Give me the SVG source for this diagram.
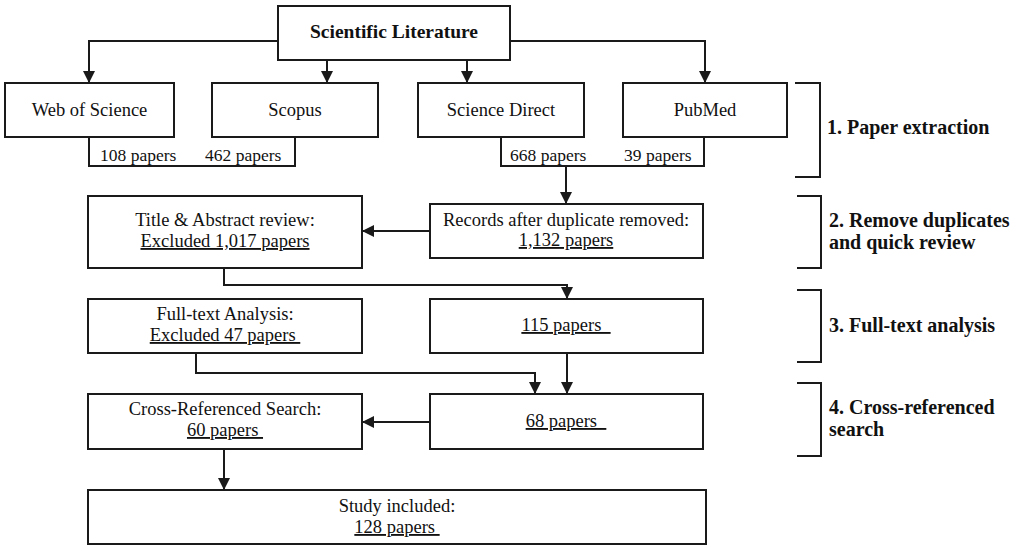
<svg xmlns="http://www.w3.org/2000/svg" width="1032" height="547" viewBox="0 0 1032 547">
<style>
.box{fill:#fff;stroke:#1a1a1a;stroke-width:2}
.t{font-family:"Liberation Serif","Times New Roman",serif;font-size:18.5px;fill:#111;text-anchor:middle}
.s{font-family:"Liberation Serif","Times New Roman",serif;font-size:17.5px;fill:#111}
.b{font-family:"Liberation Serif","Times New Roman",serif;font-size:20px;font-weight:bold;fill:#111}
.u{text-decoration:underline}
.c{fill:none;stroke:#1a1a1a;stroke-width:2}
</style>
<defs>
<marker id="ah" markerUnits="userSpaceOnUse" markerWidth="12" markerHeight="12" refX="12" refY="6" orient="auto">
<path d="M0,0 L12,6 L0,12 z" fill="#1a1a1a"/>
</marker>
</defs>
<rect width="1032" height="547" fill="#fff"/>
<g id="connectors">
<path class="c" d="M278,41 H89 V83" marker-end="url(#ah)"/>
<path class="c" d="M327,60 V83" marker-end="url(#ah)"/>
<path class="c" d="M467,60 V83" marker-end="url(#ah)"/>
<path class="c" d="M510,41 H705 V83" marker-end="url(#ah)"/>
<path class="c" d="M89,137 V166 H295 V137"/>
<path class="c" d="M501,137 V166 H704 V137"/>
<path class="c" d="M566,166 V204" marker-end="url(#ah)"/>
<path class="c" d="M430,231 H362" marker-end="url(#ah)"/>
<path class="c" d="M224,268 V285 H567 V299" marker-end="url(#ah)"/>
<path class="c" d="M196,353 V373 H535 V394" marker-end="url(#ah)"/>
<path class="c" d="M567,353 V394" marker-end="url(#ah)"/>
<path class="c" d="M430,422 H362" marker-end="url(#ah)"/>
<path class="c" d="M224,449 V490" marker-end="url(#ah)"/>
</g>
<g id="scientific-literature">
<rect class="box" x="278" y="6" width="232" height="54"/>
<text class="b" x="394" y="38" text-anchor="middle" style="font-size:19.5px">Scientific Literature</text>
</g>
<g id="web-of-science">
<rect class="box" x="5" y="83" width="169" height="54"/>
<text class="t" x="89.5" y="116">Web of Science</text>
</g>
<g id="scopus">
<rect class="box" x="212" y="83" width="166" height="54"/>
<text class="t" x="295" y="116">Scopus</text>
</g>
<g id="science-direct">
<rect class="box" x="418" y="83" width="166" height="54"/>
<text class="t" x="501" y="116">Science Direct</text>
</g>
<g id="pubmed">
<rect class="box" x="623" y="83" width="164" height="54"/>
<text class="t" x="705" y="116">PubMed</text>
</g>
<g id="counts">
<text class="s" x="100" y="161">108 papers</text>
<text class="s" x="205" y="161">462 papers</text>
<text class="s" x="510" y="161">668 papers</text>
<text class="s" x="624" y="161">39 papers</text>
</g>
<g id="title-abstract">
<rect class="box" x="88" y="196" width="274" height="72"/>
<text class="t" x="225" y="226">Title &amp; Abstract review:</text>
<text class="t u" x="225" y="247">Excluded 1,017 papers</text>
</g>
<g id="records">
<rect class="box" x="430" y="204" width="273" height="54"/>
<text class="t" x="566" y="226">Records after duplicate removed:</text>
<text class="t u" x="566" y="246">1,132 papers</text>
</g>
<g id="full-text">
<rect class="box" x="88" y="299" width="274" height="54"/>
<text class="t" x="225" y="320">Full-text Analysis:</text>
<text class="t u" x="225" y="341">Excluded  47 papers&#160;</text>
</g>
<g id="papers-115">
<rect class="box" x="430" y="299" width="273" height="54"/>
<text class="t u" x="566" y="331">115 papers&#160;&#160;</text>
</g>
<g id="cross-referenced">
<rect class="box" x="88" y="394" width="274" height="55"/>
<text class="t" x="225" y="415">Cross-Referenced Search:</text>
<text class="t u" x="225" y="436">60 papers&#160;</text>
</g>
<g id="papers-68">
<rect class="box" x="430" y="394" width="273" height="55"/>
<text class="t u" x="566" y="427">68 papers&#160;&#160;</text>
</g>
<g id="study-included">
<rect class="box" x="88" y="490" width="618" height="54"/>
<text class="t" x="397" y="512">Study included:</text>
<text class="t u" x="397" y="533">128 papers&#160;</text>
</g>
<g id="stages">
<path class="c" d="M795,83 H820 V177 H795"/>
<path class="c" d="M797,196 H821 V268 H797"/>
<path class="c" d="M797,290 H821 V362 H797"/>
<path class="c" d="M797,383 H821 V456 H797"/>
<text class="b" x="827" y="134">1. Paper extraction</text>
<text class="b" x="829" y="227">2. Remove duplicates</text>
<text class="b" x="829" y="249">and quick review</text>
<text class="b" x="829" y="332">3. Full-text analysis</text>
<text class="b" x="829" y="414">4. Cross-referenced</text>
<text class="b" x="829" y="436">search</text>
</g>
</svg>
